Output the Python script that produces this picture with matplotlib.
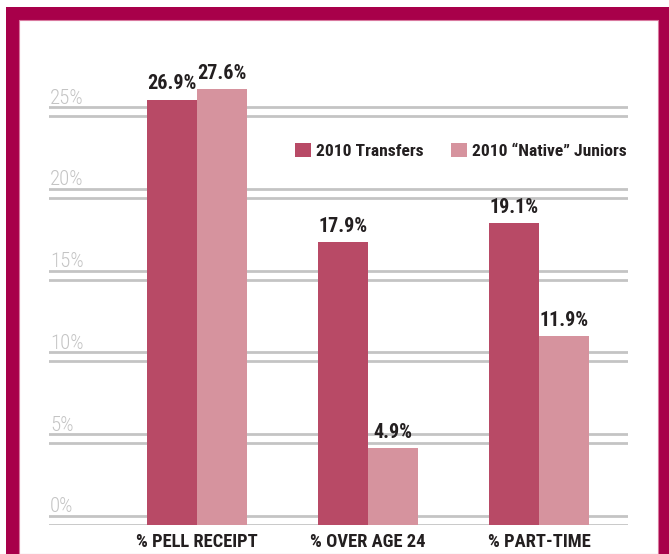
import matplotlib
matplotlib.use('Agg')
import matplotlib.pyplot as plt
from matplotlib import font_manager
from matplotlib.patches import Rectangle
import numpy as np

# categories and series
categories = ['% PELL RECEIPT', '% OVER AGE 24', '% PART-TIME']
series_names = ['2010 Transfers', '2010 \u201cNative\u201d Juniors']
# bar heights (percent)
transfers = [26.0, 17.3, 18.45]
natives = [26.65, 4.7, 11.55]
# printed value labels
transfer_labels = ['26.9%', '17.9%', '19.1%']
native_labels = ['27.6%', '4.9%', '11.9%']
yticks = [0, 5, 10, 15, 20, 25]
ytick_labels = ['0%', '5%', '10%', '15%', '20%', '25%']

c_trans = '#b84a66'
c_native = '#d6939e'
c_frame = '#a8004a'
c_grid = '#c4c4c4'
c_text = '#231f20'

# pick a narrow font if there is one
names = {f.name for f in font_manager.fontManager.ttflist}
font = 'DejaVu Sans'
scale = 0.8
for cand in ['Roboto Condensed', 'Liberation Sans Narrow', 'Barlow Condensed']:
    if cand in names:
        font = cand
        scale = 1.0
        break
plt.rcParams['font.family'] = [font, 'DejaVu Sans']

W, H = 669, 554
fig = plt.figure(figsize=(W / 100, H / 100), dpi=100)
fig.patch.set_facecolor('white')

# crimson frame
fig.patches.append(Rectangle((6 / W, 0), 1, 1 - 7 / H, transform=fig.transFigure,
                             facecolor=c_frame, edgecolor='none', zorder=-2))
fig.patches.append(Rectangle((19 / W, 0), (658 - 19) / W, 1 - 20 / H, transform=fig.transFigure,
                             facecolor='white', edgecolor='#d9799f', linewidth=0.8, zorder=-1))

# axes placed in pixel terms
px_per_pct = 16.36
ax_left, ax_right, ax_bottom, ax_top = 49, 628, 525, 20
ax = fig.add_axes([ax_left / W, 1 - ax_bottom / H, (ax_right - ax_left) / W, (ax_bottom - ax_top) / H])
ax.set_facecolor('none')
ax.set_ylim(0, (ax_bottom - ax_top) / px_per_pct)
group_px = 171
ax.set_xlim(-(197 - ax_left) / group_px, 2 + (ax_right - 539) / group_px)
for s in ax.spines.values():
    s.set_visible(False)
ax.set_xticks([])
ax.set_yticks([])

# double gridlines
off = 9 / px_per_pct
for t, lab in zip(yticks, ytick_labels):
    ax.axhline(t, color=c_grid, lw=2, zorder=1)
    ax.axhline(t + off, color=c_grid, lw=2, zorder=1)
    ax.text(0.002, t + off + 3.5 / px_per_pct, lab, transform=ax.get_yaxis_transform(),
            ha='left', va='baseline', fontsize=15 * scale, fontweight='light', color='#c4c4c4')

x = np.arange(len(categories))
w = 50 / group_px
b1 = ax.bar(x - w / 2, transfers, w, color=c_trans, zorder=2, label=series_names[0])
b2 = ax.bar(x + w / 2, natives, w, color=c_native, zorder=2, label=series_names[1])

for bars, labs in ((b1, transfer_labels), (b2, native_labels)):
    for r, lab in zip(bars, labs):
        ax.annotate(lab, (r.get_x() + r.get_width() / 2, r.get_height()),
                    xytext=(0, 7.5), textcoords='offset points', ha='center', va='baseline',
                    fontsize=14.5 * scale, fontweight='bold', color=c_text)

for xi, cat in zip(x, categories):
    ax.text(xi, -(547 - ax_bottom) / px_per_pct, cat, ha='center', va='baseline',
            fontsize=13.3 * scale, fontweight='bold', color=c_text, clip_on=False)

fs = 12.6 * scale
leg = ax.legend(loc='center left', bbox_to_anchor=(295 / W, 1 - 151 / H),
                bbox_transform=fig.transFigure, ncol=2, frameon=False, borderpad=0,
                borderaxespad=0, handlelength=16 / (fs * 1.389), handleheight=15 / (fs * 1.389),
                handletextpad=5 / (fs * 1.389), columnspacing=27 / (fs * 1.389),
                prop={'size': fs, 'weight': 'bold'})
for t in leg.get_texts():
    t.set_color(c_text)

fig.savefig('out.png', dpi=100, facecolor='white')
